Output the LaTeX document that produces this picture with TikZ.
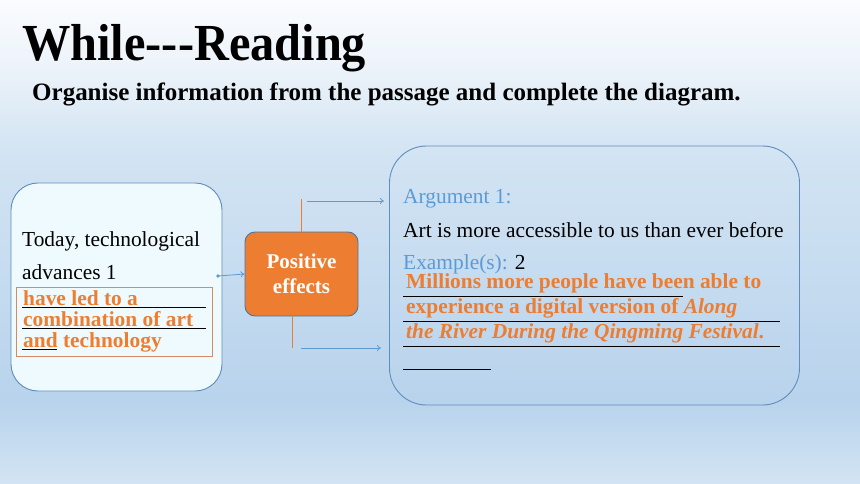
\documentclass[tikz,border=0pt]{standalone}
\usepackage{fontspec}
\setmainfont{Liberation Serif}
\usetikzlibrary{arrows.meta}
\definecolor{bgA}{HTML}{FAFCFE}
\definecolor{bgB}{HTML}{EEF4FA}
\definecolor{bgC}{HTML}{D3E4F3}
\definecolor{bgD}{HTML}{B8D3EC}
\definecolor{bgE}{HTML}{D3E4F3}
\definecolor{orng}{HTML}{ED7D31}
\definecolor{blu}{HTML}{5B9BD5}
\definecolor{boxline}{HTML}{5F8DBF}
\definecolor{pebord}{HTML}{4A76A3}
\definecolor{leftfill}{HTML}{EEFAFD}
\definecolor{ansbord}{HTML}{D68A62}
\begin{document}
\begin{tikzpicture}[x=1pt,y=-1pt,
  txt/.style={anchor=base west,inner sep=0pt,font=\fontsize{21.4}{25}\selectfont},
  otxt/.style={txt,text=orng,font=\fontsize{21.4}{25}\selectfont\bfseries},
  uline/.style={draw=black,line width=0.8pt},
  conn/.style={draw=blu,line width=0.8pt,-{To[length=4pt,width=6pt]}},
  oline/.style={draw=orng,line width=1pt}]
\useasboundingbox (0,0) rectangle (860,484);
% background
\shade[top color=bgA,bottom color=bgB] (0,0) rectangle (860,60);
\shade[top color=bgB,bottom color=bgC] (0,60) rectangle (860,150);
\shade[top color=bgC,bottom color=bgD] (0,150) rectangle (860,400);
\shade[top color=bgD,bottom color=bgE] (0,400) rectangle (860,484);
% title
\node[anchor=base west,inner sep=0pt,font=\fontsize{52}{60}\selectfont\bfseries] (title) at (22,61) {\scalebox{0.93}[1]{While-{}-{}-Reading}};
\node[anchor=base west,inner sep=0pt,font=\fontsize{25}{30}\selectfont\bfseries] (sub) at (32,101) {Organise information from the passage and complete the diagram.};
% left box
\node[draw=boxline,line width=0.9pt,fill=leftfill,rounded corners=27pt,minimum width=211pt,minimum height=208pt,inner sep=0pt] (lbox) at (116.5,287) {};
\node[draw=ansbord,line width=0.9pt,minimum width=196pt,minimum height=69pt,inner sep=0pt] (ans1) at (114,321.5) {};
\node[txt] (t1) at (22,247) {Today, technological};
\node[txt] (t2) at (22,279) {advances 1};
\draw[uline] (22,307) -- (206,307);
\draw[uline] (22,328) -- (206,328);
\draw[uline] (22,349) -- (57,349);
\node[otxt] (a1) at (23,305) {have led to a};
\node[otxt] (a2) at (23,326) {combination of art};
\node[otxt] (a3) at (23,347) {and technology};
% positive effects
\node[draw=pebord,line width=0.9pt,fill=orng,rounded corners=10pt,minimum width=113pt,minimum height=84pt,inner sep=0pt,text=white,align=center,font=\fontsize{21}{25}\selectfont\bfseries] (pe) at (301.5,274) {Positive\\effects};
% right box
\node[draw=boxline,line width=0.9pt,rounded corners=37pt,minimum width=410pt,minimum height=259pt,inner sep=0pt] (rbox) at (594.5,275.5) {};
\node[txt,text=blu] (arg) at (403,204) {Argument 1:};
\node[txt] (art) at (403,237) {Art is more accessible to us than ever before};
\node[txt] (ex) at (403,269) {\textcolor{blu}{Example(s):} 2};
\draw[uline] (403,296) -- (683,296);
\draw[uline] (403,321) -- (780,321);
\draw[uline] (403,346) -- (780,346);
\draw[uline] (403,369) -- (491,369);
\node[otxt] (b1) at (406,288) {Millions more people have been able to};
\node[otxt] (b2) at (406,313) {experience a digital version of \textit{Along}};
\node[otxt] (b3) at (406,338) {\textit{the River During the Qingming Festival}.};
% connectors
\coordinate (s0) at (218,276);
\fill[blu] (s0) circle (1.8pt);
\draw[conn] (s0) -- (pe.west);
\coordinate (up) at (301.5,199);
\coordinate (lo) at (292,348);
\draw[oline] (pe.north) -- (up);
\draw[oline] (pe.south -| lo) -- (lo);
\coordinate (u1) at (307,201);
\coordinate (u2) at (384,201);
\coordinate (l1) at (301,348);
\coordinate (l2) at (381,348);
\draw[conn] (u1) -- (u2);
\draw[conn] (l1) -- (l2);
\end{tikzpicture}
\end{document}
